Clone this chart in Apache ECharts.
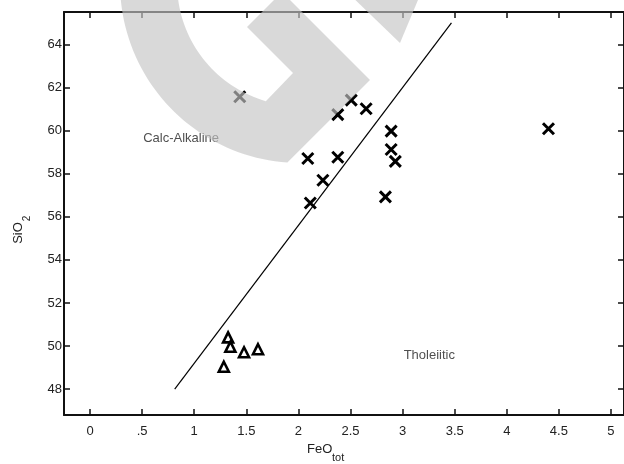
<!DOCTYPE html>
<html>
<head>
<meta charset="utf-8">
<script src="https://cdn.jsdelivr.net/npm/echarts@6/dist/echarts.min.js"></script>
<style>
html, body { margin: 0; padding: 0; background: #fff; }
#chart { width: 624px; height: 464px; }
</style>
</head>
<body>
<div id="chart"></div>
<script>
// tick positions and labels
const xTicks = [0, 0.5, 1, 1.5, 2, 2.5, 3, 3.5, 4, 4.5, 5];
const xTickLabels = ['0', '.5', '1', '1.5', '2', '2.5', '3', '3.5', '4', '4.5', '5'];
const yTicks = [48, 50, 52, 54, 56, 58, 60, 62, 64];

// samples: [FeOtot, SiO2]
const crossPoints = [
    [2.507, 61.41], [2.65, 61.01], [2.378, 60.74], [2.89, 59.97],
    [2.89, 59.12], [2.93, 58.57], [2.09, 58.70], [2.378, 58.76],
    [2.235, 57.69], [2.114, 56.64], [2.835, 56.92], [4.40, 60.08],
    [1.437, 61.57]
];
const trianglePoints = [
    [1.325, 50.40], [1.347, 49.97], [1.478, 49.71], [1.612, 49.85], [1.284, 49.04]
];

// calc-alkaline / tholeiitic divide
const dividerLine = [[0.8125, 48], [3.4688, 65]];
const regionLabels = [
    {name: 'Calc-Alkaline', value: [0.51, 59.63]},
    {name: 'Tholeiitic', value: [3.01, 49.58]}
];

const font = "'Liberation Sans', Arial, sans-serif";
const ink = '#222';

// grey watermark drawn over the plot (pixel space)
function ringPoints() {
    const pts = [];
    const rad = Math.PI / 180;
    const cx = 300, cy = -17;
    for (let a = 94; a <= 250; a += 2) {
        pts.push([cx + 180 * Math.cos(a * rad), cy + 180 * Math.sin(a * rad)]);
    }
    for (let a = 250; a >= 106.1; a -= 2) {
        pts.push([cx + 123 * Math.cos(a * rad), cy + 123 * Math.sin(a * rad)]);
    }
    pts.push([265.8, 101.2], [293, 73], [247, 27], [282, -8], [370, 80], [287.4, 162.6]);
    return pts;
}
const wmFill = 'rgba(196,196,196,0.65)';

const axisCommon = {
    axisLine: {onZero: false, lineStyle: {color: '#111', width: 2}},
    axisTick: {inside: true, length: 6, lineStyle: {color: '#111', width: 1.5}},
    splitLine: {show: false}
};

const chart = echarts.init(document.getElementById('chart'));
chart.setOption({
    animation: false,
    backgroundColor: '#fff',
    grid: {left: 64, top: 12, width: 561, height: 403},
    xAxis: [
        Object.assign({}, axisCommon, {
            type: 'value', min: -0.25, max: 5.125, position: 'bottom',
            axisTick: Object.assign({}, axisCommon.axisTick, {customValues: xTicks}),
            axisLabel: {
                customValues: xTicks, margin: 10, color: ink, fontSize: 13, fontFamily: font,
                formatter: v => xTickLabels[xTicks.indexOf(v)]
            }
        }),
        Object.assign({}, axisCommon, {
            type: 'value', min: -0.25, max: 5.125, position: 'top',
            axisTick: Object.assign({}, axisCommon.axisTick, {customValues: xTicks}),
            axisLabel: {show: false}
        })
    ],
    yAxis: [
        Object.assign({}, axisCommon, {
            type: 'value', min: 46.8, max: 65.5, position: 'left',
            axisTick: Object.assign({}, axisCommon.axisTick, {customValues: yTicks}),
            axisLabel: {customValues: yTicks, margin: 2, color: ink, fontSize: 13, fontFamily: font}
        }),
        Object.assign({}, axisCommon, {
            type: 'value', min: 46.8, max: 65.5, position: 'right',
            axisTick: Object.assign({}, axisCommon.axisTick, {customValues: yTicks}),
            axisLabel: {show: false}
        })
    ],
    graphic: [
        {type: 'text', left: 307, top: 443, style: {text: 'FeO', fontSize: 13, fontFamily: font, fill: ink}},
        {type: 'text', left: 332, top: 452, style: {text: 'tot', fontSize: 11, fontFamily: font, fill: ink}},
        {type: 'text', x: 18, y: 233, rotation: Math.PI / 2,
            style: {text: 'SiO', fontSize: 13, fontFamily: font, fill: ink, align: 'center', verticalAlign: 'middle'}},
        {type: 'text', x: 27, y: 218.5, rotation: Math.PI / 2,
            style: {text: '2', fontSize: 10, fontFamily: font, fill: ink, align: 'center', verticalAlign: 'middle'}},
        {type: 'polygon', z: 100, silent: true, shape: {points: ringPoints()}, style: {fill: wmFill}},
        {type: 'polygon', z: 100, silent: true, shape: {points: [[345, -10], [423, -12], [400, 43]]}, style: {fill: wmFill}}
    ],
    series: [
        {
            type: 'line', data: dividerLine, showSymbol: false, silent: true,
            lineStyle: {color: '#000', width: 1.2}
        },
        {
            type: 'scatter', data: crossPoints, symbol: 'path://M0,0L10,10M10,0L0,10', symbolSize: 11,
            itemStyle: {color: 'rgba(0,0,0,0)', borderColor: '#000', borderWidth: 3, opacity: 1}
        },
        {
            type: 'scatter', data: trianglePoints, symbol: 'triangle', symbolSize: 10,
            itemStyle: {color: '#fff', borderColor: '#000', borderWidth: 2.6, opacity: 1}
        },
        {
            type: 'scatter', data: regionLabels, symbolSize: 0, silent: true,
            label: {
                show: true, position: 'right', distance: 0, formatter: p => p.name,
                fontSize: 13, fontFamily: font, color: ink
            }
        }
    ]
});
</script>
</body>
</html>
